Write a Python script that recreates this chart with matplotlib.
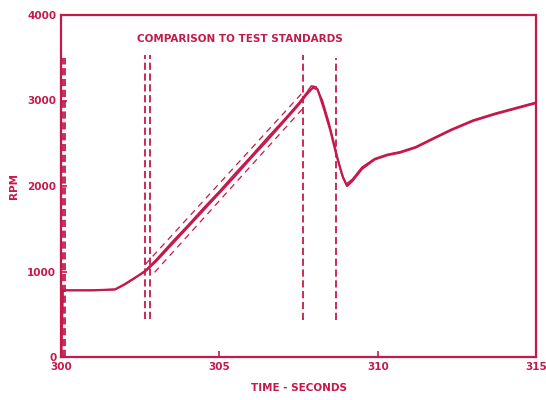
import matplotlib.pyplot as plt

red = '#c41a4b'

# run 1
time_a = [300.0, 300.05, 301.0, 301.7, 302.0, 302.3, 302.65, 303.0, 303.5, 304.0, 304.5,
          305.0, 305.5, 306.0, 306.5, 307.0, 307.5, 307.75, 307.95, 308.1, 308.3, 308.5,
          308.7, 308.9, 309.03, 309.2, 309.5, 309.9, 310.3, 310.7, 311.2, 311.8, 312.3,
          313.0, 313.7, 314.3, 315.0]
rpm_a = [0, 780, 780, 790, 850, 920, 1000, 1120, 1320, 1520, 1720,
         1920, 2120, 2330, 2530, 2740, 2950, 3070, 3150, 3130, 2900, 2650,
         2350, 2100, 2000, 2060, 2200, 2310, 2360, 2390, 2450, 2560, 2650,
         2760, 2840, 2900, 2970]

# run 2
time_b = [300.0, 300.05, 301.0, 301.7, 302.0, 302.3, 302.65, 303.0, 303.5, 304.0, 304.5,
          305.0, 305.5, 306.0, 306.5, 307.0, 307.5, 307.75, 307.9, 308.05, 308.25, 308.45,
          308.65, 308.85, 309.0, 309.2, 309.5, 309.9, 310.3, 310.7, 311.2, 311.8, 312.3,
          313.0, 313.7, 314.3, 315.0]
rpm_b = [0, 780, 780, 790, 845, 915, 1010, 1140, 1345, 1540, 1745,
         1940, 2150, 2350, 2560, 2760, 2970, 3090, 3170, 3160, 3000, 2750,
         2450, 2150, 2020, 2080, 2220, 2320, 2370, 2400, 2460, 2570, 2660,
         2770, 2850, 2910, 2980]

# tolerance band
band_time_up = [302.65, 307.64]
band_upper = [1080, 3100]
band_time_low = [302.95, 307.64]
band_lower = [990, 2910]

# test standard markers
marker_times = [300.05, 300.12, 302.65, 302.8, 307.64, 308.68]
marker_bottom = [0, 0, 450, 450, 430, 430]
marker_top = [3500, 3500, 3530, 3530, 3530, 3500]

fig = plt.figure(figsize=(5.46, 4.0), dpi=100)
ax = fig.add_axes([0.112, 0.1075, 0.87, 0.855])

ax.plot(time_a, rpm_a, color=red, lw=1.6)
ax.plot(time_b, rpm_b, color=red, lw=1.2)
ax.plot(band_time_up, band_upper, color=red, lw=0.9, ls=(0, (5, 4)))
ax.plot(band_time_low, band_lower, color=red, lw=0.9, ls=(0, (5, 4)))
for t, lo, hi in zip(marker_times, marker_bottom, marker_top):
    ax.vlines(t, lo, hi, color=red, lw=1.3, ls=(0, (4, 2)))

ax.set_xlim(300, 315)
ax.set_ylim(0, 4000)
ax.set_xticks([300, 305, 310, 315])
ax.set_yticks([0, 1000, 2000, 3000, 4000])
ax.tick_params(direction='in', colors=red, length=4, width=1.2, labelsize=7.5)
for lab in ax.get_xticklabels() + ax.get_yticklabels():
    lab.set_fontweight('bold')
for s in ax.spines.values():
    s.set_color(red)
    s.set_linewidth(1.6)

ax.set_xlabel('TIME - SECONDS', color=red, fontsize=7.5, fontweight='bold', labelpad=8)
ax.set_ylabel('RPM', color=red, fontsize=7.5, fontweight='bold', labelpad=6)
ax.text(305.65, 3720, 'COMPARISON TO TEST STANDARDS', color=red, fontsize=7.5,
        fontweight='bold', ha='center', va='center')

fig.savefig('out.png', dpi=100)
